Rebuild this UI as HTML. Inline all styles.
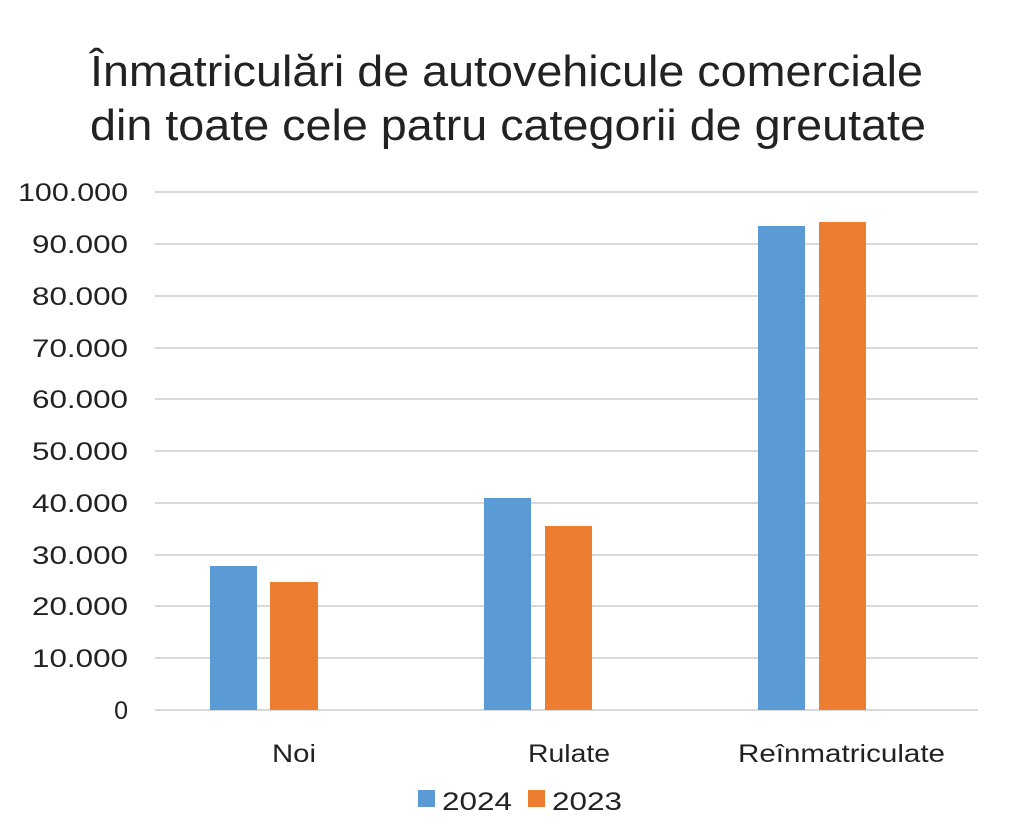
<!DOCTYPE html>
<html><head><meta charset="utf-8"><style>body{margin:0;background:#fff}svg{display:block}</style></head>
<body>
<svg width="1024" height="839" xmlns="http://www.w3.org/2000/svg" font-family="Liberation Sans, sans-serif">
<rect width="1024" height="839" fill="#fff"/>
<text x="90" y="86" font-size="44" textLength="833" lengthAdjust="spacingAndGlyphs" fill="#222">Înmatriculări de autovehicule comerciale</text>
<text x="90" y="140" font-size="44" textLength="836" lengthAdjust="spacingAndGlyphs" fill="#222">din toate cele patru categorii de greutate</text>
<g stroke="#d9d9d9" stroke-width="2">
<line x1="155" x2="978" y1="192" y2="192"/><line x1="155" x2="978" y1="244" y2="244"/>
<line x1="155" x2="978" y1="296" y2="296"/><line x1="155" x2="978" y1="348" y2="348"/>
<line x1="155" x2="978" y1="399" y2="399"/><line x1="155" x2="978" y1="451" y2="451"/>
<line x1="155" x2="978" y1="503" y2="503"/><line x1="155" x2="978" y1="555" y2="555"/>
<line x1="155" x2="978" y1="606" y2="606"/><line x1="155" x2="978" y1="658" y2="658"/>
<line x1="155" x2="978" y1="710" y2="710"/>
</g>
<g font-size="25" fill="#222" text-anchor="end" lengthAdjust="spacingAndGlyphs">
<text x="128" y="201" textLength="110" lengthAdjust="spacingAndGlyphs">100.000</text>
<text x="128" y="253" textLength="96" lengthAdjust="spacingAndGlyphs">90.000</text>
<text x="128" y="305" textLength="96" lengthAdjust="spacingAndGlyphs">80.000</text>
<text x="128" y="357" textLength="96" lengthAdjust="spacingAndGlyphs">70.000</text>
<text x="128" y="408" textLength="96" lengthAdjust="spacingAndGlyphs">60.000</text>
<text x="128" y="460" textLength="96" lengthAdjust="spacingAndGlyphs">50.000</text>
<text x="128" y="512" textLength="96" lengthAdjust="spacingAndGlyphs">40.000</text>
<text x="128" y="564" textLength="96" lengthAdjust="spacingAndGlyphs">30.000</text>
<text x="128" y="615" textLength="96" lengthAdjust="spacingAndGlyphs">20.000</text>
<text x="128" y="667" textLength="96" lengthAdjust="spacingAndGlyphs">10.000</text>
<text x="128" y="719">0</text>
</g>
<g fill="#5b9bd5">
<rect x="210" y="566" width="47" height="144"/>
<rect x="484" y="498" width="47" height="212"/>
<rect x="758" y="226" width="47" height="484"/>
</g>
<g fill="#ed7d31">
<rect x="270" y="582" width="48" height="128"/>
<rect x="545" y="526" width="47" height="184"/>
<rect x="819" y="222" width="47" height="488"/>
</g>
<g font-size="25" fill="#222">
<text x="272" y="762" textLength="44" lengthAdjust="spacingAndGlyphs">Noi</text>
<text x="528" y="762" textLength="82" lengthAdjust="spacingAndGlyphs">Rulate</text>
<text x="738" y="762" textLength="207" lengthAdjust="spacingAndGlyphs">Reînmatriculate</text>
</g>
<rect x="418" y="790" width="17" height="17" fill="#5b9bd5"/>
<text x="442" y="810" font-size="25" fill="#222" textLength="70" lengthAdjust="spacingAndGlyphs">2024</text>
<rect x="528" y="790" width="17" height="17" fill="#ed7d31"/>
<text x="552" y="810" font-size="25" fill="#222" textLength="70" lengthAdjust="spacingAndGlyphs">2023</text>
</svg>
</body></html>
